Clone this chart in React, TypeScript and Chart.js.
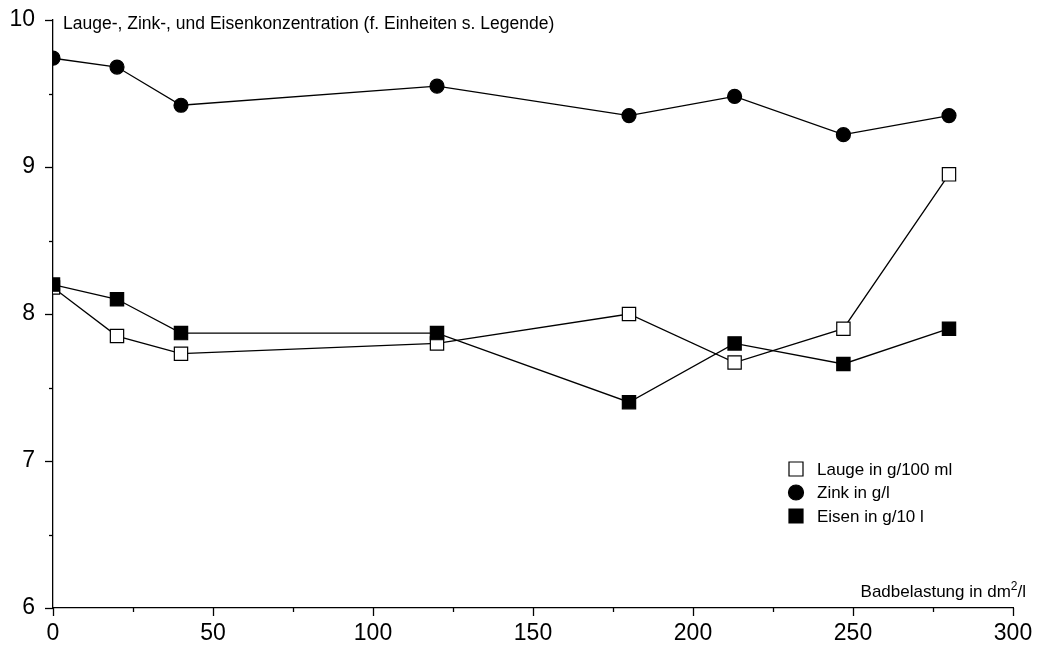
import React, { useEffect, useRef } from "react";
import { Chart, registerables } from "chart.js";

Chart.register(...registerables);

const xValues = [0, 20, 40, 120, 180, 213, 247, 280];
const laugeValues = [8.18, 7.85, 7.73, 7.8, 8.0, 7.67, 7.9, 8.95];
const zinkValues = [9.74, 9.68, 9.42, 9.55, 9.35, 9.48, 9.22, 9.35];
const eisenValues = [8.2, 8.1, 7.87, 7.87, 7.4, 7.8, 7.66, 7.9];

const seriesLabels = ["Lauge in g/100 ml", "Zink in g/l", "Eisen in g/10 l"];
const yTitle = "Lauge-, Zink-, und Eisenkonzentration (f. Einheiten s. Legende)";
const xTitleMain = "Badbelastung in dm";
const xTitleSup = "2";
const xTitleEnd = "/l";

const FONT = "'Liberation Sans', Arial, Helvetica, sans-serif";

const toPoints = (vals: number[]) => vals.map((v, i) => ({ x: xValues[i], y: v }));

const decorPlugin = {
  id: "decor",
  afterDraw(chart: any) {
    const ctx = chart.ctx;
    const xs = chart.scales.x;
    const ys = chart.scales.y;
    const area = chart.chartArea;
    ctx.save();
    ctx.strokeStyle = "#000";
    ctx.lineWidth = 1.3;
    // x ticks
    for (let v = 0; v <= 300; v += 25) {
      const px = Math.round(xs.getPixelForValue(v)) + 0.5;
      const len = v % 50 === 0 ? 8 : 4;
      ctx.beginPath();
      ctx.moveTo(px, area.bottom);
      ctx.lineTo(px, area.bottom + len);
      ctx.stroke();
    }
    // y ticks
    for (let v = 6; v <= 10.001; v += 0.5) {
      const py = Math.round(ys.getPixelForValue(v)) + 0.5;
      const len = Math.abs(v - Math.round(v)) < 0.01 ? 8 : 4;
      ctx.beginPath();
      ctx.moveTo(area.left, py);
      ctx.lineTo(area.left - len, py);
      ctx.stroke();
    }
    // titles
    ctx.fillStyle = "#000";
    ctx.font = `17.5px ${FONT}`;
    ctx.textBaseline = "middle";
    ctx.textAlign = "left";
    ctx.fillText(yTitle, area.left + 10, area.top + 4);

    // x title (right aligned)
    const supFont = `12px ${FONT}`;
    const mainFont = `17px ${FONT}`;
    ctx.font = mainFont;
    const wMain = ctx.measureText(xTitleMain).width;
    const wEnd = ctx.measureText(xTitleEnd).width;
    ctx.font = supFont;
    const wSup = ctx.measureText(xTitleSup).width;
    const right = 1026;
    const ty = area.bottom - 16;
    let tx = right - wMain - wSup - wEnd;
    ctx.font = mainFont;
    ctx.fillText(xTitleMain, tx, ty);
    tx += wMain;
    ctx.font = supFont;
    ctx.fillText(xTitleSup, tx, ty - 5);
    tx += wSup;
    ctx.font = mainFont;
    ctx.fillText(xTitleEnd, tx, ty);

    // legend
    const lx = 796;
    const ly0 = 469;
    const step = 23.5;
    chart.data.datasets.forEach((ds: any, i: number) => {
      const cy = ly0 + i * step;
      ctx.lineWidth = 1.2;
      ctx.strokeStyle = "#000";
      ctx.fillStyle = ds.pointBackgroundColor;
      ctx.beginPath();
      if (ds.pointStyle === "circle") {
        ctx.arc(lx, cy, 7.5, 0, Math.PI * 2);
      } else {
        ctx.rect(lx - 7, cy - 7, 14, 14);
      }
      ctx.fill();
      ctx.stroke();
      ctx.fillStyle = "#000";
      ctx.font = `17px ${FONT}`;
      ctx.textAlign = "left";
      ctx.textBaseline = "middle";
      ctx.fillText(ds.label, 817, cy + 1);
    });
    ctx.restore();
  },
};

export default function App() {
  const ref = useRef<HTMLCanvasElement | null>(null);
  useEffect(() => {
    if (!ref.current) return;
    const common = {
      borderColor: "#000",
      borderWidth: 1.3,
      pointBorderColor: "#000",
      pointBorderWidth: 1.2,
      tension: 0,
      fill: false,
    };
    const chart = new Chart(ref.current, {
      type: "line",
      data: {
        datasets: [
          {
            ...common,
            label: seriesLabels[0],
            data: toPoints(laugeValues),
            pointStyle: "rect",
            pointRadius: 9.4,
            pointBackgroundColor: "#fff",
            order: 1,
          },
          {
            ...common,
            label: seriesLabels[1],
            data: toPoints(zinkValues),
            pointStyle: "circle",
            pointRadius: 7,
            pointBackgroundColor: "#000",
            order: 2,
          },
          {
            ...common,
            label: seriesLabels[2],
            data: toPoints(eisenValues),
            pointStyle: "rect",
            pointRadius: 9.4,
            pointBackgroundColor: "#000",
            order: 0,
          },
        ],
      },
      options: {
        animation: false,
        responsive: false,
        layout: { padding: { top: 20, right: 24, bottom: 0, left: 0 } },
        plugins: { legend: { display: false }, tooltip: { enabled: false } },
        scales: {
          x: {
            type: "linear",
            min: 0,
            max: 300,
            ticks: {
              stepSize: 50,
              color: "#000",
              font: { size: 23, family: FONT },
              padding: 12,
              maxRotation: 0,
            },
            grid: { display: false, drawTicks: false },
            border: { display: true, color: "#000", width: 1.3 },
            afterFit: (s: any) => {
              s.height = 42;
              s.paddingLeft = 0;
              s.paddingRight = 0;
              s.paddingTop = 0;
              s.paddingBottom = 0;
            },
          },
          y: {
            type: "linear",
            min: 6,
            max: 10,
            ticks: {
              stepSize: 1,
              color: "#000",
              font: { size: 23, family: FONT },
              padding: 18,
            },
            grid: { display: false, drawTicks: false },
            border: { display: true, color: "#000", width: 1.3 },
            afterFit: (s: any) => {
              s.width = 53;
              s.paddingLeft = 0;
              s.paddingRight = 0;
              s.paddingTop = 0;
              s.paddingBottom = 0;
            },
          },
        },
      },
      plugins: [decorPlugin],
    } as any);
    return () => chart.destroy();
  }, []);
  return (
    <div style={{ position: "absolute", left: 0, top: 0, width: 1037, height: 650, background: "#fff" }}>
      <canvas ref={ref} width={1037} height={650} />
    </div>
  );
}
